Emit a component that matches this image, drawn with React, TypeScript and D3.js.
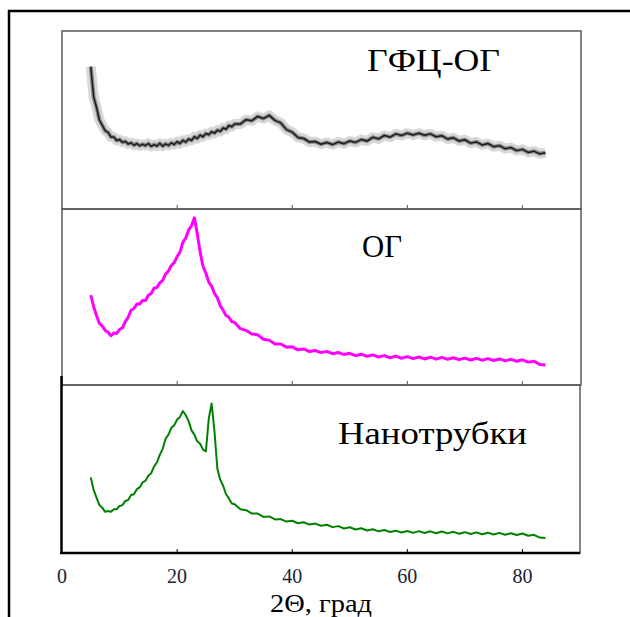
import React from "react";
import * as d3 from "d3";

const angles = [
  5, 5.5, 6, 6.5, 7, 7.5, 8, 8.5, 9, 9.5, 10, 10.5, 11, 11.5, 12, 12.5, 13, 13.5, 14, 14.5,
  15, 15.5, 16, 16.5, 17, 17.5, 18, 18.5, 19, 19.5, 20, 20.5, 21, 21.5, 22, 22.5, 23, 23.5, 24, 24.5,
  25, 25.5, 26, 26.5, 27, 27.5, 28, 28.5, 29, 29.5, 30,
  31, 32, 33, 34, 35, 36, 37, 38, 39, 40, 41, 42, 43, 44, 45, 46, 47, 48, 49, 50,
  51, 52, 53, 54, 55, 56, 57, 58, 59, 60, 61, 62, 63, 64, 65, 66, 67, 68, 69, 70,
  71, 72, 73, 74, 75, 76, 77, 78, 79, 80, 81, 82, 83, 84,
];

const gfcValues = [
  80, 63, 57, 50, 47, 44, 43, 40.5, 40.5, 38.5, 39, 37.5, 38, 36.5, 37.2, 35.8, 36.8, 35.5, 36.4, 35.6,
  36.8, 35.2, 36.2, 35.4, 36.9, 35.3, 36.6, 35.7, 37.2, 36.2, 37.8, 36.8, 38.6, 37.6, 39.3, 38.5, 40.6, 39.6, 41.5, 40.6,
  42.4, 41.7, 43.4, 42.6, 44.3, 43.6, 45.5, 44.8, 46.9, 46.2, 47.8,
  47.8, 50.2, 49.6, 52, 50.8, 52.6, 49.8, 48.4, 44.6, 43.2, 40.2, 39.6, 37.6, 37.9, 36.4, 37.4, 36.2, 37.6, 36.7, 38.2,
  37.4, 39, 38.2, 40.3, 39.4, 41.3, 40.4, 42.2, 41.3, 42.6, 41.6, 42.6, 41.4, 42.2, 40.6, 41.2, 39.3, 40, 38.2, 38.9,
  37, 37.7, 36, 36.8, 35, 35.6, 33.9, 34.5, 32.8, 33.5, 31.8, 32.5, 31, 31.6,
];

const ogValues = [
  51, 44.5, 39.5, 35, 33.5, 31, 30, 28, 29.5, 29.3, 31.5, 32.5, 36, 38.5, 42.5, 43.5, 46, 46, 48, 48,
  51, 52, 55, 55.5, 58, 59.5, 63, 64.8, 68, 69.5, 73, 75.5, 81, 83.5, 88, 90.5, 95, 86, 75.5, 67.5,
  63.5, 58.5, 56, 52, 49.5, 45, 42.5, 39.5, 38.5, 36, 35.5,
  32, 31, 29, 28.5, 26, 25.5, 23.3, 23.3, 21.5, 21.7, 20, 20.5, 19, 19.6, 18.4, 19.1, 17.8, 18.5, 17.3, 18,
  16.7, 17.5, 16.3, 17.1, 15.9, 16.7, 15.5, 16.4, 15.2, 16.1, 15, 15.9, 14.8, 15.8, 14.7, 15.7, 14.6, 15.5, 14.4, 15.3,
  14.2, 15.1, 14.1, 15, 13.9, 14.8, 13.7, 14.6, 13.5, 14.3, 13, 13.5, 11.7, 11.3,
];

const ntValues = [
  45, 37.5, 33, 28.5, 27, 24.5, 25, 24.5, 26, 26, 28, 28.5, 31, 31.5, 34.5, 35, 38, 39, 42, 43,
  46, 47.5, 51.5, 54, 58.5, 62, 68, 70.5, 74.5, 76, 79.5, 81, 84.5, 82, 78.5, 73, 70.5, 66.5, 65, 61.5,
  60.5, 80, 89, 72, 50, 43.5, 40, 35, 32.5, 29.5, 29,
  26, 25.5, 23.5, 23.5, 21.5, 21.8, 20, 20.2, 18.7, 19.2, 17.7, 18.3, 16.9, 17.5, 16.2, 16.8, 15.4, 16, 14.6, 15.3,
  14, 14.7, 13.4, 14.1, 12.9, 13.7, 12.5, 13.3, 12.2, 13.1, 12, 13, 11.9, 12.9, 11.8, 12.8, 11.7, 12.6, 11.5, 12.4,
  11.3, 12.3, 11.2, 12.1, 11, 12, 10.9, 11.8, 10.7, 11.6, 10.3, 10.8, 9.2, 9.0,
];

const xTicks = [0, 20, 40, 60, 80];
const panelLabels = ["ГФЦ-ОГ", "ОГ", "Нанотрубки"];
const xTitle = "2Θ, град";

const SERIF = "'Liberation Serif', 'Times New Roman', serif";

export default function App() {
  const x = d3.scaleLinear().domain([0, 90]).range([62, 580]);
  const panels = [
    { top: 31, bottom: 209, label: panelLabels[0], lx: 367, ly: 71, lw: 133 },
    { top: 209, bottom: 385, label: panelLabels[1], lx: 362, ly: 257, lw: 40 },
    { top: 385, bottom: 553, label: panelLabels[2], lx: 338, ly: 444, lw: 189 },
  ];
  const makeLine = (p: { top: number; bottom: number }) => {
    const y = d3.scaleLinear().domain([0, 100]).range([p.bottom, p.top]);
    return d3
      .line<number>()
      .x((_, i) => x(angles[i]))
      .y((v) => y(v));
  };
  const l0 = makeLine(panels[0]);
  const l1 = makeLine(panels[1]);
  const l2 = makeLine(panels[2]);

  return (
    <svg
      width={630}
      height={617}
      style={{ position: "absolute", left: 0, top: 0, background: "#fff" }}
    >
      {/* outer frame */}
      <line x1={9} y1={10} x2={9} y2={617} stroke="#000" strokeWidth={2.5} />
      <line x1={8} y1={11} x2={630} y2={11} stroke="#000" strokeWidth={2.5} />

      {/* panels 1 & 2 frames */}
      {panels.slice(0, 2).map((p, i) => (
        <g key={i}>
          <rect
            x={62}
            y={p.top}
            width={581 - 62}
            height={p.bottom - p.top}
            fill="none"
            stroke="#5a5a5a"
            strokeWidth={1.5}
          />
          {xTicks.slice(1).map((t) => (
            <line key={t} x1={x(t)} x2={x(t)} y1={p.bottom} y2={p.bottom - 4} stroke="#555" strokeWidth={1} />
          ))}
        </g>
      ))}

      {/* panel 3 frame */}
      <line x1={61} y1={385} x2={580} y2={385} stroke="#5a5a5a" strokeWidth={1.5} />
      <line x1={580} y1={385} x2={580} y2={554} stroke="#5a5a5a" strokeWidth={1.5} />
      <line x1={61.5} y1={376} x2={61.5} y2={554} stroke="#000" strokeWidth={2.5} />
      <line x1={60} y1={553} x2={580} y2={553} stroke="#000" strokeWidth={2.5} />
      {xTicks.slice(1).map((t) => (
        <line key={t} x1={x(t)} x2={x(t)} y1={553} y2={549} stroke="#000" strokeWidth={1} />
      ))}

      {/* curves */}
      <path d={l0(gfcValues) || ""} fill="none" stroke="#a8a8a8" strokeWidth={10} strokeOpacity={0.45} strokeLinejoin="round" />
      <path d={l0(gfcValues) || ""} fill="none" stroke="#555" strokeWidth={4} strokeOpacity={0.6} strokeLinejoin="round" />
      <path d={l0(gfcValues) || ""} fill="none" stroke="#1a1a1a" strokeWidth={1.5} strokeLinejoin="round" />
      <path d={l1(ogValues) || ""} fill="none" stroke="#ff00ff" strokeWidth={3} strokeLinejoin="round" />
      <path d={l2(ntValues) || ""} fill="none" stroke="#008000" strokeWidth={2} strokeLinejoin="round" />

      {/* panel labels */}
      {panels.map((p, i) => (
        <text
          key={i}
          x={p.lx}
          y={p.ly}
          fontFamily={SERIF}
          fontSize={31}
          fill="#000"
          textLength={p.lw}
          lengthAdjust="spacingAndGlyphs"
        >
          {p.label}
        </text>
      ))}

      {/* tick labels */}
      {xTicks.map((t) => (
        <text key={t} x={x(t)} y={583} textAnchor="middle" fontFamily={SERIF} fontSize={20} fill="#1c2233">
          {t}
        </text>
      ))}
      <text
        x={270}
        y={612}
        fontFamily={SERIF}
        fontSize={25}
        fill="#000"
        textLength={102}
        lengthAdjust="spacingAndGlyphs"
      >
        {xTitle}
      </text>
    </svg>
  );
}
